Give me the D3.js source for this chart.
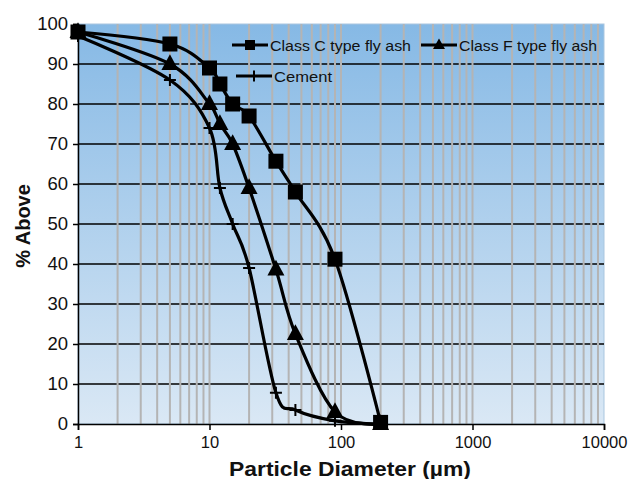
<!DOCTYPE html>
<html>
<head>
<meta charset="utf-8">
<script src="https://cdn.jsdelivr.net/npm/d3@7"></script>
<style>
  body { margin: 0; background: #fff; }
  svg text { font-family: "Liberation Sans", Arial, sans-serif; fill: #111; }
</style>
</head>
<body>
<div id="chart"></div>
<script>
// Data
const diameters = [1, 5, 10, 12, 15, 20, 32, 45, 90, 200];
const classC = [98, 95, 89, 85, 80, 77, 65.7, 58, 41.2, 0.4];
const classF = [98, 90, 80, 75, 70, 59, 38.6, 22.5, 3, 0];
const cement = [97, 86, 74, 59, 50, 39, 7.8, 3.5, 0.8, 0];
const yTicks = [0, 10, 20, 30, 40, 50, 60, 70, 80, 90, 100];
const xTicks = [1, 10, 100, 1000, 10000];

const series = [
    { name: "Class C type fly ash", values: classC, marker: "square" },
    { name: "Class F type fly ash", values: classF, marker: "triangle" },
    { name: "Cement", values: cement, marker: "cross" }
];

const width = 641, height = 479;
const margin = { top: 24, right: 37, bottom: 55, left: 78 };
const plotW = width - margin.left - margin.right;
const plotH = height - margin.top - margin.bottom;

const svg = d3.select("#chart").append("svg")
    .attr("width", width)
    .attr("height", height);

// background gradient
const grad = svg.append("defs").append("linearGradient")
    .attr("id", "bg").attr("x1", 0).attr("y1", 0).attr("x2", 0).attr("y2", 1);
grad.append("stop").attr("offset", "0%").attr("stop-color", "#86b9e5");
grad.append("stop").attr("offset", "100%").attr("stop-color", "#dae8f5");

const g = svg.append("g").attr("transform", `translate(${margin.left},${margin.top})`);

const x = d3.scaleLog().domain([1, 10000]).range([0, plotW]);
const y = d3.scaleLinear().domain([0, 100]).range([plotH, 0]);

g.append("rect")
    .attr("width", plotW).attr("height", plotH)
    .attr("fill", "url(#bg)")
    .attr("stroke", "#a9c6df").attr("stroke-width", 1);

// horizontal grid
g.selectAll(".hgrid")
    .data(yTicks.filter(d => d > 0 && d < 100))
    .enter().append("line")
    .attr("class", "hgrid")
    .attr("x1", 0).attr("x2", plotW)
    .attr("y1", d => y(d)).attr("y2", d => y(d))
    .attr("stroke", "#000").attr("stroke-width", 1.5);

// vertical minor grid
const minor = [];
for (let p = 1; p < 10000; p *= 10) {
    for (let k = 2; k <= 10; k++) {
        if (p * k < 10000) minor.push(p * k);
    }
}
g.selectAll(".vgrid")
    .data(minor)
    .enter().append("line")
    .attr("class", "vgrid")
    .attr("x1", d => x(d)).attr("x2", d => x(d))
    .attr("y1", 0).attr("y2", plotH)
    .attr("stroke", "#b4b4b4").attr("stroke-width", 2);

// axes
const yAxis = g.append("g")
    .call(d3.axisLeft(y).tickValues(yTicks).tickSize(5).tickPadding(5));
const xAxis = g.append("g")
    .attr("transform", `translate(0,${plotH})`)
    .call(d3.axisBottom(x).tickValues(xTicks).tickFormat(d3.format("d")).tickSize(6).tickPadding(6));
[yAxis, xAxis].forEach(a => {
    a.select(".domain").attr("stroke", "#000").attr("stroke-width", 1.5);
    a.selectAll(".tick line").attr("stroke", "#000").attr("stroke-width", 1.5);
    a.selectAll("text").attr("font-family", "Liberation Sans, Arial, sans-serif").attr("fill", "#111");
});
yAxis.selectAll("text").attr("font-size", 18.5);
xAxis.selectAll("text").attr("font-size", 16.5);

// markers
function drawMarker(sel, type, size) {
    if (type === "square") {
        sel.append("rect")
            .attr("x", -size / 2).attr("y", -size / 2)
            .attr("width", size).attr("height", size)
            .attr("fill", "#000");
    } else if (type === "triangle") {
        const h = size * 1.05;
        sel.append("path")
            .attr("d", `M0,${-h * 0.62}L${size / 2 + 1},${h * 0.38}L${-size / 2 - 1},${h * 0.38}Z`)
            .attr("fill", "#000");
    } else {
        sel.append("path")
            .attr("d", `M${-size / 2},0H${size / 2}M0,${-size / 2}V${size / 2}`)
            .attr("stroke", "#000").attr("stroke-width", 2);
    }
}

const line = d3.line()
    .x(d => x(d[0]))
    .y(d => y(d[1]))
    .curve(d3.curveCatmullRom.alpha(0));

series.slice().reverse().forEach(s => {
    const pts = diameters.map((d, i) => [d, s.values[i]]);
    g.append("path")
        .datum(pts)
        .attr("d", line)
        .attr("fill", "none")
        .attr("stroke", "#000")
        .attr("stroke-width", 3.2);
    pts.forEach(p => {
        const m = g.append("g").attr("transform", `translate(${x(p[0])},${y(p[1])})`);
        drawMarker(m, s.marker, s.marker === "cross" ? 12 : 15);
    });
});

// legend
const legendPos = [
    { x: 232, y: 45 },
    { x: 421, y: 45 },
    { x: 236, y: 76 }
];
const legendLen = [141, 138, 58];
series.forEach((s, i) => {
    const lg = svg.append("g").attr("transform", `translate(${legendPos[i].x},${legendPos[i].y})`);
    lg.append("line").attr("x1", 0).attr("x2", 36).attr("y1", 0).attr("y2", 0)
        .attr("stroke", "#000").attr("stroke-width", 3.2);
    const m = lg.append("g").attr("transform", "translate(18,0)");
    drawMarker(m, s.marker, s.marker === "cross" ? 11 : 10);
    lg.append("text")
        .attr("x", 38).attr("y", 6)
        .attr("font-size", 15.5)
        .attr("textLength", legendLen[i])
        .attr("lengthAdjust", "spacingAndGlyphs")
        .text(s.name);
});

// axis titles
svg.append("text")
    .attr("x", 229)
    .attr("y", 476)
    .attr("font-size", 20)
    .attr("font-weight", "bold")
    .attr("textLength", 242)
    .attr("lengthAdjust", "spacingAndGlyphs")
    .text("Particle Diameter (µm)");

svg.append("text")
    .attr("transform", "translate(30,226) rotate(-90)")
    .attr("text-anchor", "middle")
    .attr("font-size", 20)
    .attr("font-weight", "bold")
    .text("% Above");
</script>
</body>
</html>
